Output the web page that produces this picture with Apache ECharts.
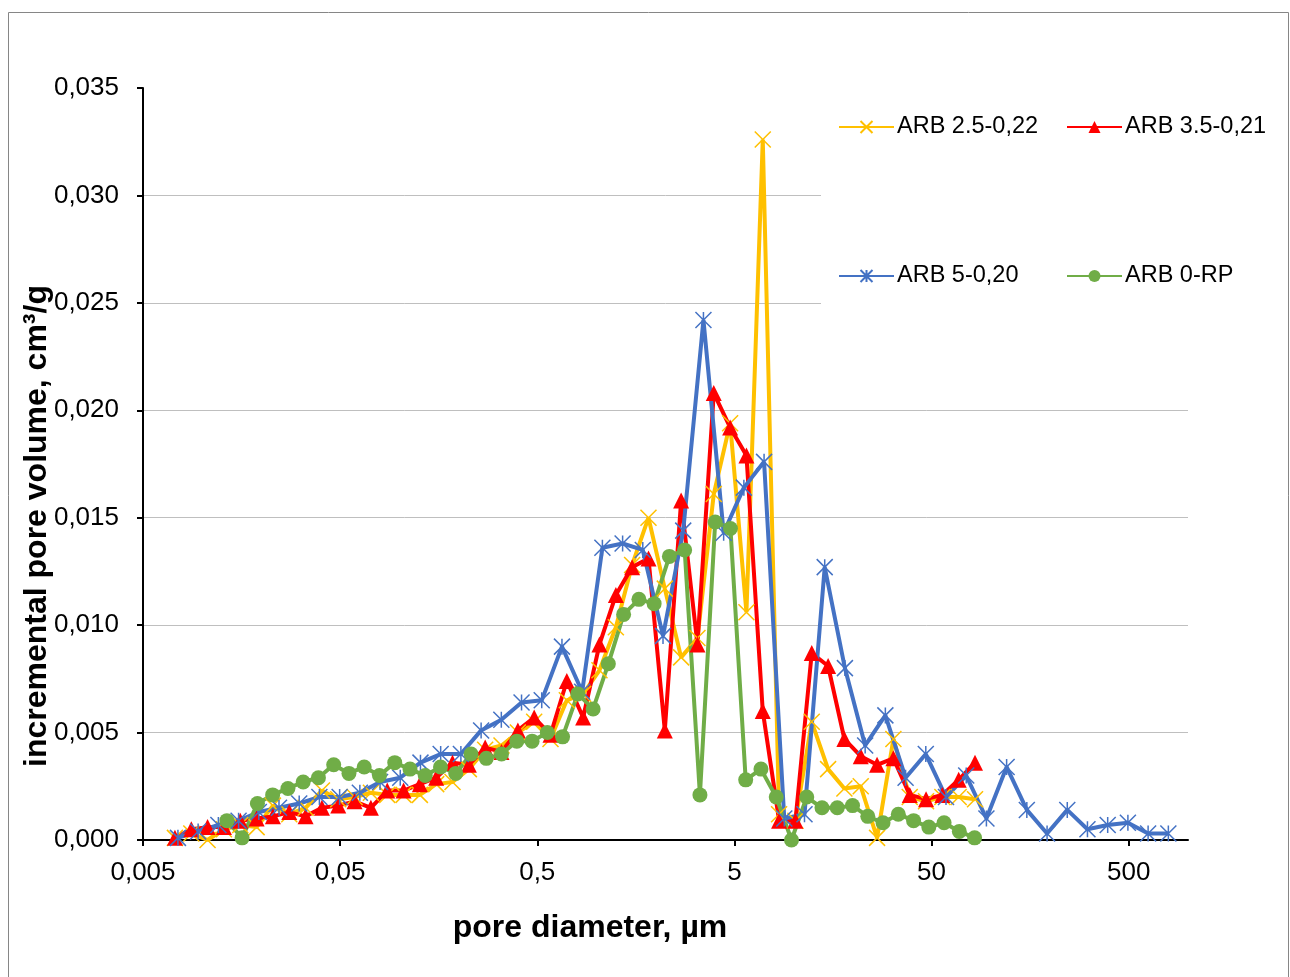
<!DOCTYPE html>
<html>
<head>
<meta charset="utf-8">
<title>incremental pore volume</title>
<script src="https://cdn.jsdelivr.net/npm/echarts@6/dist/echarts.min.js"></script>
<style>
html, body { margin: 0; padding: 0; background: #fff; }
#chart { width: 1290px; height: 977px; }
</style>
</head>
<body>
<div id="chart"></div>
<script>
// axis range (pore diameter, µm) - log scale
var X_MIN = 0.005, X_MAX = 1000;
var xTickLabels = ['0,005', '0,05', '0,5', '5', '50', '500'];
var yTickLabels = ['0,000', '0,005', '0,010', '0,015', '0,020', '0,025', '0,030', '0,035'];

var names = ['ARB 2.5-0,22', 'ARB 3.5-0,21', 'ARB 5-0,20', 'ARB 0-RP'];

// pore diameters, µm (ARB 2.5 and ARB 3.5 use the same steps)
var diam25 = [0.00726, 0.00879, 0.01063, 0.01287, 0.01557, 0.01885, 0.0228, 0.0276, 0.0334, 0.04042,
  0.04891, 0.05919, 0.07162, 0.08667, 0.1049, 0.1269, 0.1536, 0.1858, 0.2249, 0.2721,
  0.3293, 0.3986, 0.4823, 0.5836, 0.7063, 0.8546, 1.034, 1.252, 1.514, 1.833,
  2.218, 2.684, 3.248, 3.93, 4.756, 5.755, 6.965, 8.427, 10.2, 12.34,
  14.94, 18.07, 21.87, 26.47, 32.03, 38.76, 46.9, 56.75, 68.68, 83.11];
var diam35 = diam25;
var diam5 = [0.00752, 0.00952, 0.01206, 0.01527, 0.01934, 0.02448, 0.031, 0.03925, 0.0497, 0.06295,
  0.0797, 0.1009, 0.1278, 0.1618, 0.2049, 0.2595, 0.3286, 0.4161, 0.5268, 0.6672,
  0.8449, 1.07, 1.355, 1.715, 2.172, 2.75, 3.483, 4.41, 5.585, 7.072,
  8.955, 11.34, 14.36, 18.18, 23.03, 29.16, 36.93, 46.76, 59.21, 74.98,
  94.93, 120.2, 152.2, 192.8, 244.1, 309, 391.4, 495.6, 627.6, 794.9];
var diam0 = [0.01332, 0.01591, 0.01903, 0.02273, 0.02717, 0.03247, 0.0388, 0.04638, 0.05542, 0.06623,
  0.07915, 0.09462, 0.1131, 0.1351, 0.1615, 0.193, 0.2307, 0.2757, 0.3294, 0.3937,
  0.4706, 0.5623, 0.672, 0.8032, 0.96, 1.147, 1.371, 1.639, 1.958, 2.34,
  2.797, 3.343, 3.995, 4.775, 5.706, 6.819, 8.15, 9.741, 11.64, 13.91,
  16.63, 19.87, 23.75, 28.38, 33.92, 40.54, 48.44, 57.89, 69.18, 82.68];

// incremental pore volume, cm3/g
var vol25 = [0.0001, 0.0003, 0.0000, 0.0005, 0.0007, 0.0006, 0.0016, 0.0012, 0.0015, 0.0023,
  0.0019, 0.0020, 0.0022, 0.0021, 0.0021, 0.0021, 0.0026, 0.0027, 0.0033, 0.0042,
  0.0044, 0.0050, 0.0055, 0.0047, 0.0065, 0.0068, 0.0079, 0.0099, 0.0128, 0.0150,
  0.0117, 0.0085, 0.0094, 0.0161, 0.0194, 0.0106, 0.0326, 0.0012, 0.0009, 0.0055,
  0.0033, 0.0024, 0.0025, 0.0001, 0.0047, 0.0020, 0.0018, 0.0020, 0.0020, 0.0019];
var vol35 = [0.0001, 0.0005, 0.0006, 0.0006, 0.0009, 0.0010, 0.0011, 0.0013, 0.0011, 0.0015,
  0.0016, 0.0018, 0.0015, 0.0023, 0.0023, 0.0026, 0.0029, 0.0036, 0.0035, 0.0043,
  0.0041, 0.0051, 0.0057, 0.0049, 0.0074, 0.0057, 0.0091, 0.0114, 0.0127, 0.0131,
  0.0051, 0.0158, 0.0091, 0.0208, 0.0192, 0.0179, 0.0060, 0.0009, 0.0009, 0.0087,
  0.0081, 0.0047, 0.0039, 0.0035, 0.0038, 0.0021, 0.0019, 0.0021, 0.0028, 0.0036];
var vol5 = [0.0001, 0.0004, 0.0007, 0.0009, 0.0013, 0.0015, 0.0017, 0.0020, 0.0020, 0.0022,
  0.0027, 0.0029, 0.0036, 0.0040, 0.0040, 0.0051, 0.0056, 0.0064, 0.0065, 0.0090,
  0.0069, 0.0136, 0.0138, 0.0135, 0.0095, 0.0144, 0.0242, 0.0143, 0.0164, 0.0176,
  0.0010, 0.0012, 0.0127, 0.0080, 0.0044, 0.0058, 0.0029, 0.0040, 0.0020, 0.0030,
  0.0010, 0.0034, 0.0014, 0.0003, 0.0014, 0.0005, 0.0007, 0.0008, 0.0003, 0.0003];
var vol0 = [0.0009, 0.0001, 0.0017, 0.0021, 0.0024, 0.0027, 0.0029, 0.0035, 0.0031, 0.0034,
  0.0030, 0.0036, 0.0033, 0.0030, 0.0034, 0.0031, 0.0040, 0.0038, 0.0040, 0.0046,
  0.0046, 0.0050, 0.0048, 0.0068, 0.0061, 0.0082, 0.0105, 0.0112, 0.0110, 0.0132,
  0.0135, 0.0021, 0.0148, 0.0145, 0.0028, 0.0033, 0.0020, 0.0000, 0.0020, 0.0015,
  0.0015, 0.0016, 0.0011, 0.0008, 0.0012, 0.0009, 0.0006, 0.0008, 0.0004, 0.0001];

var colors = ['#FFC000', '#FF0000', '#4472C4', '#70AD47'];
var symbols = [
  'path://M0,0L10,10M10,0L0,10',
  'triangle',
  'path://M0,0L10,10M10,0L0,10M5,0L5,10',
  'circle'
];
var symbolSizes = [16, 16, 16, 15];

// position along the log axis, counted in decades from X_MIN
function lx(d) { return Math.log10(d / X_MIN); }
function pairs(ds, vs) {
  var out = [];
  for (var i = 0; i < ds.length; i++) out.push([lx(ds[i]), vs[i]]);
  return out;
}

var allData = [pairs(diam25, vol25), pairs(diam35, vol35), pairs(diam5, vol5), pairs(diam0, vol0)];

var FONT = '"Liberation Sans", Arial, sans-serif';

var series = [];
for (var s = 0; s < names.length; s++) {
  series.push({
    name: names[s],
    type: 'line',
    data: allData[s],
    symbol: symbols[s],
    symbolSize: symbolSizes[s],
    showAllSymbol: true,
    lineStyle: { color: colors[s], width: 4 },
    itemStyle: { color: colors[s], borderColor: colors[s], borderWidth: s === 0 || s === 2 ? 1.5 : 0 },
    emphasis: { disabled: true },
    animation: false
  });
}

var legendPos = [[838, 115], [1066, 115], [838, 264], [1066, 264]];
var legends = [];
for (var l = 0; l < names.length; l++) {
  legends.push({
    data: [names[l]],
    left: legendPos[l][0],
    top: legendPos[l][1],
    padding: 0,
    itemWidth: 55,
    itemHeight: 15,
    itemGap: 3,
    selectedMode: false,
    textStyle: { fontSize: 23.5, color: '#000', fontFamily: FONT, padding: [0, 0, 0, -2] }
  });
}

var chart = echarts.init(document.getElementById('chart'));
chart.setOption({
  backgroundColor: '#fff',
  animation: false,
  grid: { left: 143, top: 88, width: 1045, height: 752 },
  legend: legends,
  xAxis: {
    type: 'value',
    min: 0,
    max: lx(X_MAX),
    interval: 1,
    axisLine: { lineStyle: { color: '#000', width: 2 } },
    axisTick: { length: 6, lineStyle: { color: '#000', width: 2 }, customValues: [0, 1, 2, 3, 4, 5] },
    axisLabel: {
      customValues: [0, 1, 2, 3, 4, 5],
      margin: 20,
      fontSize: 26,
      color: '#000',
      fontFamily: FONT,
      formatter: function (v) { return xTickLabels[Math.round(v)]; }
    },
    splitLine: { show: false }
  },
  yAxis: {
    type: 'value',
    min: 0,
    max: 0.035,
    interval: 0.005,
    axisLine: { show: true, lineStyle: { color: '#000', width: 2 } },
    axisTick: { show: true, length: 6, lineStyle: { color: '#000', width: 2 } },
    axisLabel: {
      margin: 24,
      fontSize: 26,
      color: '#000',
      fontFamily: FONT,
      formatter: function (v) { return yTickLabels[Math.round(v / 0.005)]; }
    },
    splitLine: { show: true, showMaxLine: false, lineStyle: { color: '#BFBFBF', width: 1 } }
  },
  graphic: [
    {
      type: 'rect', z: 3, silent: true,
      shape: { x: 821, y: 92, width: 466, height: 214 },
      style: { fill: '#fff' }
    },
    {
      type: 'rect', z: 4, silent: true,
      shape: { x: 8.5, y: 12.5, width: 1280, height: 1000 },
      style: { fill: null, stroke: '#868686', lineWidth: 1 }
    },
    {
      type: 'text', z: 5, silent: true,
      x: 590, y: 928,
      style: {
        text: 'pore diameter, µm', fill: '#000',
        font: 'bold 32px ' + FONT, align: 'center', verticalAlign: 'middle'
      }
    },
    {
      type: 'text', z: 5, silent: true,
      x: 37, y: 526, rotation: Math.PI / 2,
      style: {
        text: 'incremental pore volume, cm³/g', fill: '#000',
        font: 'bold 32px ' + FONT, align: 'center', verticalAlign: 'middle'
      }
    }
  ],
  series: series
});
</script>
</body>
</html>
